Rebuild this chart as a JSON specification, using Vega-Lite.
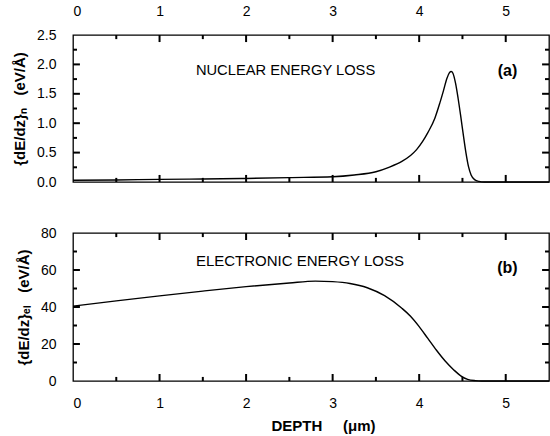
{
  "$schema": "https://vega.github.io/schema/vega-lite/v6.json",
  "padding": {"left": 11, "top": 3, "right": 0, "bottom": 0},
  "bounds": "flush",
  "spacing": 51,
  "background": "white",
  "config": {
    "view": {"stroke": "black", "strokeWidth": 1.3},
    "font": "Liberation Sans",
    "axis": {
      "domain": false, "grid": false, "ticks": false,
      "labelFont": "Liberation Sans", "labelFontSize": 14, "labelColor": "black",
      "titleColor": "black", "titleFont": "Liberation Sans", "titleFontSize": 15, "titleFontWeight": "bold"
    }
  },
  "datasets": {
    "nuclear": [
      {"depth": 0, "value": 0.03}, {"depth": 0.5, "value": 0.035}, {"depth": 1, "value": 0.045},
      {"depth": 1.5, "value": 0.05}, {"depth": 2, "value": 0.06}, {"depth": 2.5, "value": 0.075},
      {"depth": 3, "value": 0.09}, {"depth": 3.25, "value": 0.12}, {"depth": 3.5, "value": 0.175},
      {"depth": 3.65, "value": 0.25}, {"depth": 3.8, "value": 0.35}, {"depth": 3.9, "value": 0.45},
      {"depth": 3.97, "value": 0.55}, {"depth": 4.04, "value": 0.69}, {"depth": 4.1, "value": 0.84},
      {"depth": 4.18, "value": 1.08}, {"depth": 4.24, "value": 1.35}, {"depth": 4.28, "value": 1.55},
      {"depth": 4.32, "value": 1.76}, {"depth": 4.35, "value": 1.86}, {"depth": 4.37, "value": 1.88},
      {"depth": 4.39, "value": 1.85}, {"depth": 4.42, "value": 1.68}, {"depth": 4.45, "value": 1.42},
      {"depth": 4.48, "value": 1.12}, {"depth": 4.51, "value": 0.8}, {"depth": 4.54, "value": 0.5},
      {"depth": 4.57, "value": 0.26}, {"depth": 4.6, "value": 0.12}, {"depth": 4.64, "value": 0.04},
      {"depth": 4.69, "value": 0.01}, {"depth": 4.75, "value": 0}, {"depth": 5.5, "value": 0}
    ],
    "electronic": [
      {"depth": 0, "value": 40.5}, {"depth": 0.5, "value": 43.3}, {"depth": 1, "value": 46},
      {"depth": 1.5, "value": 48.6}, {"depth": 2, "value": 51}, {"depth": 2.5, "value": 53},
      {"depth": 2.8, "value": 54}, {"depth": 3.0, "value": 53.7}, {"depth": 3.2, "value": 52.7},
      {"depth": 3.4, "value": 50.4}, {"depth": 3.6, "value": 46.1}, {"depth": 3.8, "value": 39.3},
      {"depth": 3.9, "value": 35.0}, {"depth": 4.0, "value": 29.4}, {"depth": 4.1, "value": 23.0},
      {"depth": 4.2, "value": 16.6}, {"depth": 4.3, "value": 10.8}, {"depth": 4.4, "value": 6.0},
      {"depth": 4.48, "value": 2.8}, {"depth": 4.56, "value": 0.9}, {"depth": 4.65, "value": 0.2},
      {"depth": 4.72, "value": 0}, {"depth": 5.5, "value": 0}
    ],
    "xMajor": [{"depth": 1}, {"depth": 2}, {"depth": 3}, {"depth": 4}, {"depth": 5}],
    "xMinor": [{"depth": 0.5}, {"depth": 1.5}, {"depth": 2.5}, {"depth": 3.5}, {"depth": 4.5}],
    "yMajorA": [{"value": 0.5}, {"value": 1}, {"value": 1.5}, {"value": 2}],
    "yMinorA": [{"value": 0.25}, {"value": 0.75}, {"value": 1.25}, {"value": 1.75}, {"value": 2.25}],
    "yMajorB": [{"value": 20}, {"value": 40}, {"value": 60}],
    "yMinorB": [{"value": 10}, {"value": 30}, {"value": 50}, {"value": 70}],
    "labelsA": [{"depth": 1.42, "value": 1.89, "text": "NUCLEAR ENERGY LOSS"}],
    "tagA": [{"depth": 5.02, "value": 1.89, "text": "(a)"}],
    "labelsB": [{"depth": 1.42, "value": 65, "text": "ELECTRONIC ENERGY LOSS"}],
    "tagB": [{"depth": 5.02, "value": 61, "text": "(b)"}]
  },
  "vconcat": [
    {
      "width": 476, "height": 147,
      "resolve": {"axis": {"x": "independent", "y": "independent"}},
      "layer": [
        {
          "data": {"name": "nuclear"},
          "mark": {"type": "line", "color": "black", "strokeWidth": 1.4, "interpolate": "monotone"},
          "encoding": {
            "x": {"field": "depth", "type": "quantitative", "scale": {"domain": [0, 5.5], "nice": false},
              "axis": {"orient": "top", "title": null, "values": [0,1,2,3,4,5], "format": "d", "labelPadding": 17}},
            "y": {"field": "value", "type": "quantitative", "scale": {"domain": [0, 2.5], "nice": false},
              "axis": {"orient": "left", "title": "{dE/dz}ₙ\u00a0\u00a0\u00a0(eV/Å)", "format": ".1f",
                "values": [0,0.5,1,1.5,2,2.5], "labelPadding": 17, "titlePadding": 9}}
          }
        },
        {"data": {"name": "xMajor"}, "mark": {"type": "rule", "color": "black", "strokeWidth": 2},
          "encoding": {"x": {"field": "depth", "type": "quantitative", "axis": null}, "y": {"datum": 0, "axis": null}, "y2": {"datum": 0.12}}},
        {"data": {"name": "xMajor"}, "mark": {"type": "rule", "color": "black", "strokeWidth": 2},
          "encoding": {"x": {"field": "depth", "type": "quantitative", "axis": null}, "y": {"datum": 2.5, "axis": null}, "y2": {"datum": 2.38}}},
        {"data": {"name": "xMinor"}, "mark": {"type": "rule", "color": "black", "strokeWidth": 2},
          "encoding": {"x": {"field": "depth", "type": "quantitative", "axis": null}, "y": {"datum": 0, "axis": null}, "y2": {"datum": 0.07}}},
        {"data": {"name": "xMinor"}, "mark": {"type": "rule", "color": "black", "strokeWidth": 2},
          "encoding": {"x": {"field": "depth", "type": "quantitative", "axis": null}, "y": {"datum": 2.5, "axis": null}, "y2": {"datum": 2.43}}},
        {"data": {"name": "yMajorA"}, "mark": {"type": "rule", "color": "black", "strokeWidth": 2},
          "encoding": {"y": {"field": "value", "type": "quantitative", "axis": null}, "x": {"datum": 0, "axis": null}, "x2": {"datum": 0.08}}},
        {"data": {"name": "yMajorA"}, "mark": {"type": "rule", "color": "black", "strokeWidth": 2},
          "encoding": {"y": {"field": "value", "type": "quantitative", "axis": null}, "x": {"datum": 5.5, "axis": null}, "x2": {"datum": 5.42}}},
        {"data": {"name": "yMinorA"}, "mark": {"type": "rule", "color": "black", "strokeWidth": 2},
          "encoding": {"y": {"field": "value", "type": "quantitative", "axis": null}, "x": {"datum": 0, "axis": null}, "x2": {"datum": 0.046}}},
        {"data": {"name": "yMinorA"}, "mark": {"type": "rule", "color": "black", "strokeWidth": 2},
          "encoding": {"y": {"field": "value", "type": "quantitative", "axis": null}, "x": {"datum": 5.5, "axis": null}, "x2": {"datum": 5.454}}},
        {
          "data": {"name": "labelsA"},
          "mark": {"type": "text", "align": "left", "baseline": "middle", "fontSize": 14.7, "font": "Liberation Sans", "color": "black"},
          "encoding": {
            "x": {"field": "depth", "type": "quantitative", "axis": null},
            "y": {"field": "value", "type": "quantitative", "axis": null},
            "text": {"field": "text"}
          }
        },
        {
          "data": {"name": "tagA"},
          "mark": {"type": "text", "align": "center", "baseline": "middle", "fontSize": 16, "fontWeight": "bold", "font": "Liberation Sans", "color": "black"},
          "encoding": {
            "x": {"field": "depth", "type": "quantitative", "axis": null},
            "y": {"field": "value", "type": "quantitative", "axis": null},
            "text": {"field": "text"}
          }
        }
      ]
    },
    {
      "width": 476, "height": 148,
      "resolve": {"axis": {"x": "independent", "y": "independent"}},
      "layer": [
        {
          "data": {"name": "electronic"},
          "mark": {"type": "line", "color": "black", "strokeWidth": 1.4, "interpolate": "monotone"},
          "encoding": {
            "x": {"field": "depth", "type": "quantitative", "scale": {"domain": [0, 5.5], "nice": false},
              "axis": {"orient": "bottom", "title": "DEPTH\u00a0\u00a0\u00a0\u00a0\u00a0(μm)", "titleX": 250,
                "values": [0,1,2,3,4,5], "format": "d", "labelPadding": 15, "titlePadding": 8}},
            "y": {"field": "value", "type": "quantitative", "scale": {"domain": [0, 80], "nice": false},
              "axis": {"orient": "left", "title": "{dE/dz}ₑₗ\u00a0\u00a0\u00a0(eV/Å)",
                "values": [0,20,40,60,80], "labelPadding": 17, "titlePadding": 9}}
          }
        },
        {"data": {"name": "xMajor"}, "mark": {"type": "rule", "color": "black", "strokeWidth": 2},
          "encoding": {"x": {"field": "depth", "type": "quantitative", "axis": null}, "y": {"datum": 0, "axis": null}, "y2": {"datum": 3.8}}},
        {"data": {"name": "xMajor"}, "mark": {"type": "rule", "color": "black", "strokeWidth": 2},
          "encoding": {"x": {"field": "depth", "type": "quantitative", "axis": null}, "y": {"datum": 80, "axis": null}, "y2": {"datum": 76.2}}},
        {"data": {"name": "xMinor"}, "mark": {"type": "rule", "color": "black", "strokeWidth": 2},
          "encoding": {"x": {"field": "depth", "type": "quantitative", "axis": null}, "y": {"datum": 0, "axis": null}, "y2": {"datum": 2.2}}},
        {"data": {"name": "xMinor"}, "mark": {"type": "rule", "color": "black", "strokeWidth": 2},
          "encoding": {"x": {"field": "depth", "type": "quantitative", "axis": null}, "y": {"datum": 80, "axis": null}, "y2": {"datum": 77.8}}},
        {"data": {"name": "yMajorB"}, "mark": {"type": "rule", "color": "black", "strokeWidth": 2},
          "encoding": {"y": {"field": "value", "type": "quantitative", "axis": null}, "x": {"datum": 0, "axis": null}, "x2": {"datum": 0.08}}},
        {"data": {"name": "yMajorB"}, "mark": {"type": "rule", "color": "black", "strokeWidth": 2},
          "encoding": {"y": {"field": "value", "type": "quantitative", "axis": null}, "x": {"datum": 5.5, "axis": null}, "x2": {"datum": 5.42}}},
        {"data": {"name": "yMinorB"}, "mark": {"type": "rule", "color": "black", "strokeWidth": 2},
          "encoding": {"y": {"field": "value", "type": "quantitative", "axis": null}, "x": {"datum": 0, "axis": null}, "x2": {"datum": 0.046}}},
        {"data": {"name": "yMinorB"}, "mark": {"type": "rule", "color": "black", "strokeWidth": 2},
          "encoding": {"y": {"field": "value", "type": "quantitative", "axis": null}, "x": {"datum": 5.5, "axis": null}, "x2": {"datum": 5.454}}},
        {
          "data": {"name": "labelsB"},
          "mark": {"type": "text", "align": "left", "baseline": "middle", "fontSize": 15, "font": "Liberation Sans", "color": "black"},
          "encoding": {
            "x": {"field": "depth", "type": "quantitative", "axis": null},
            "y": {"field": "value", "type": "quantitative", "axis": null},
            "text": {"field": "text"}
          }
        },
        {
          "data": {"name": "tagB"},
          "mark": {"type": "text", "align": "center", "baseline": "middle", "fontSize": 16, "fontWeight": "bold", "font": "Liberation Sans", "color": "black"},
          "encoding": {
            "x": {"field": "depth", "type": "quantitative", "axis": null},
            "y": {"field": "value", "type": "quantitative", "axis": null},
            "text": {"field": "text"}
          }
        }
      ]
    }
  ]
}
